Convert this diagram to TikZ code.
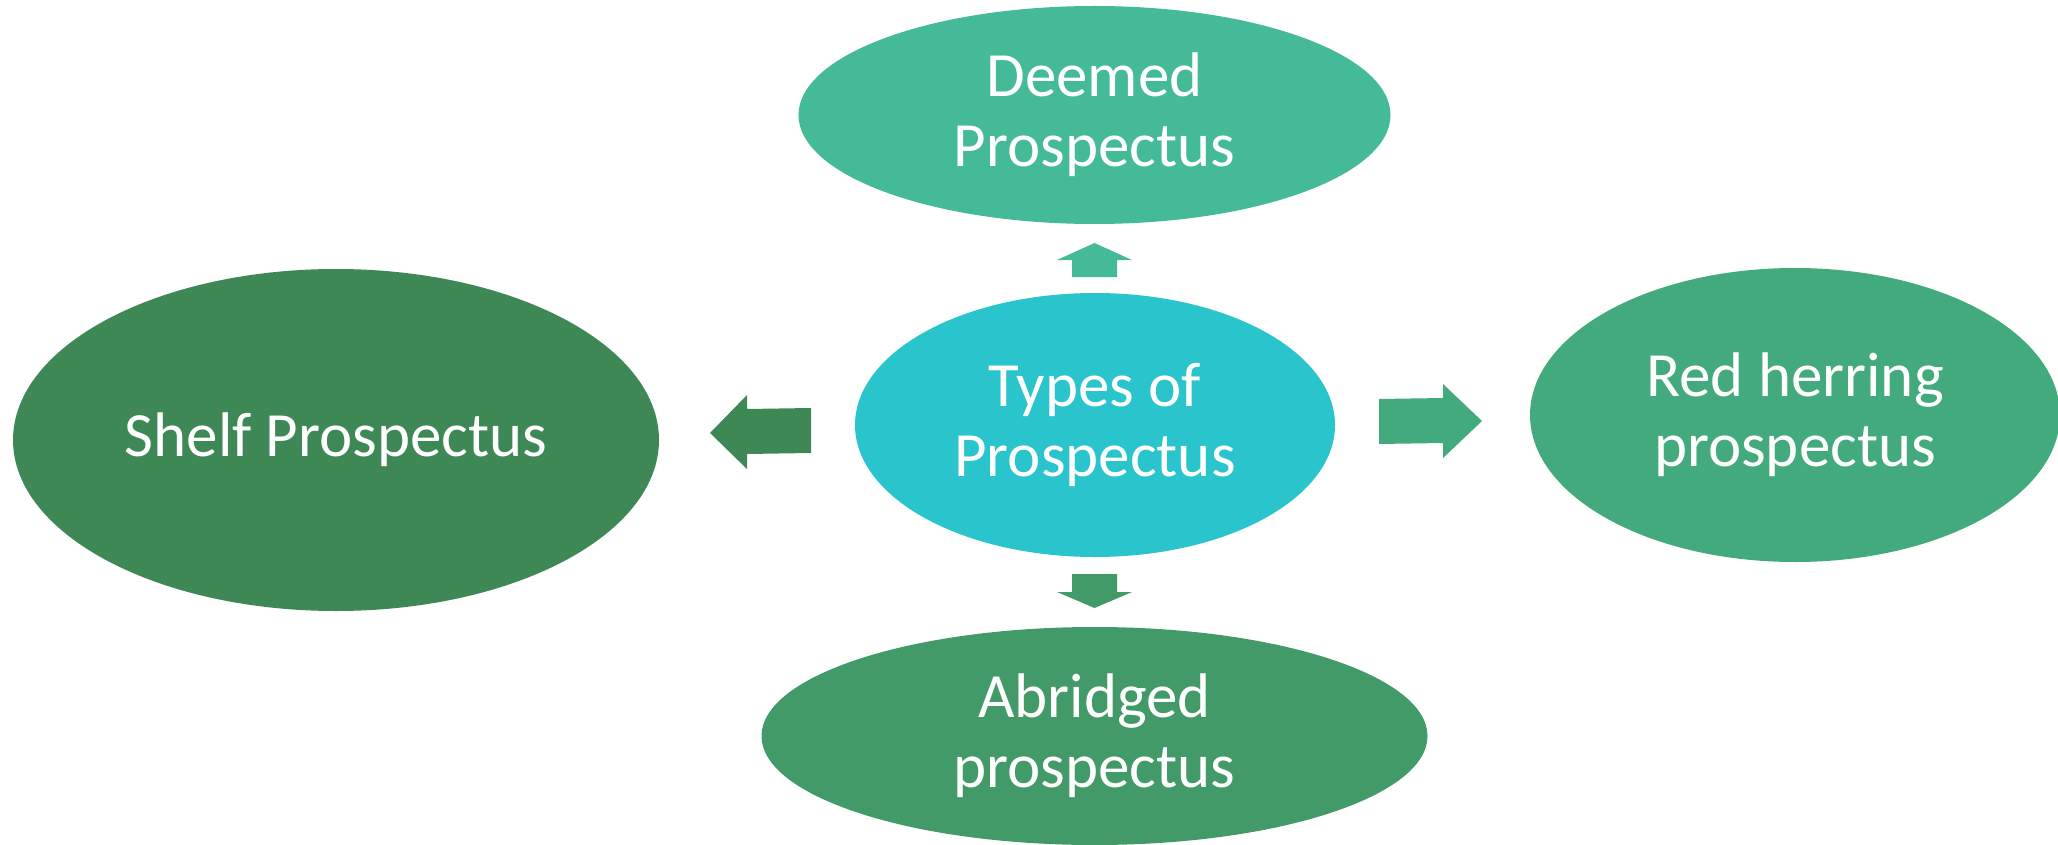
\documentclass[tikz,border=0pt]{standalone}
\usepackage{fontspec}
\setmainfont{Carlito}
\usetikzlibrary{shapes.geometric}
\definecolor{cDeemed}{RGB}{68,186,152}
\definecolor{cCenter}{RGB}{42,196,204}
\definecolor{cShelf}{RGB}{62,136,86}
\definecolor{cRed}{RGB}{67,170,126}
\definecolor{cAbr}{RGB}{65,154,103}
\begin{document}
\begin{tikzpicture}[x=1pt,y=-1pt,
  bubble/.style={ellipse, inner sep=0pt, outer sep=0pt, text=white, align=center,
    font=\fontsize{63}{70}\selectfont}]
\useasboundingbox (0,0) rectangle (2058,845);
% ellipses
\node[bubble, fill=cCenter, minimum width=480pt, minimum height=264pt] (center) at (1095,425) {Types of\\Prospectus};
\node[bubble, fill=cDeemed, minimum width=592pt, minimum height=218pt] (deemed) at (1094.5,115) {Deemed\\Prospectus};
\node[bubble, fill=cShelf, minimum width=646pt, minimum height=342pt] (shelf) at (336,440) {Shelf Prospectus};
\node[bubble, fill=cRed, minimum width=530pt, minimum height=294pt] (redh) at (1795,415) {Red herring\\prospectus};
\node[bubble, fill=cAbr, minimum width=666pt, minimum height=218pt] (abr) at (1094.5,736) {Abridged\\prospectus};
% block arrows
\fill[cShelf] (710,433) -- (747,395) -- (747,409) -- (811,408) -- (811,453) -- (747,454) -- (747,469) -- cycle;
\fill[cRed] (1482,421) -- (1443,458) -- (1443,443) -- (1379,444) -- (1379,399) -- (1443,398) -- (1443,384) -- cycle;
\fill[cDeemed] (1094.5,243) -- (1132,260) -- (1117,260) -- (1117,277) -- (1072,277) -- (1072,260) -- (1057,260) -- cycle;
\fill[cAbr] (1094.5,608) -- (1132,592) -- (1117,592) -- (1117,574) -- (1072,574) -- (1072,592) -- (1057,592) -- cycle;
\end{tikzpicture}
\end{document}
